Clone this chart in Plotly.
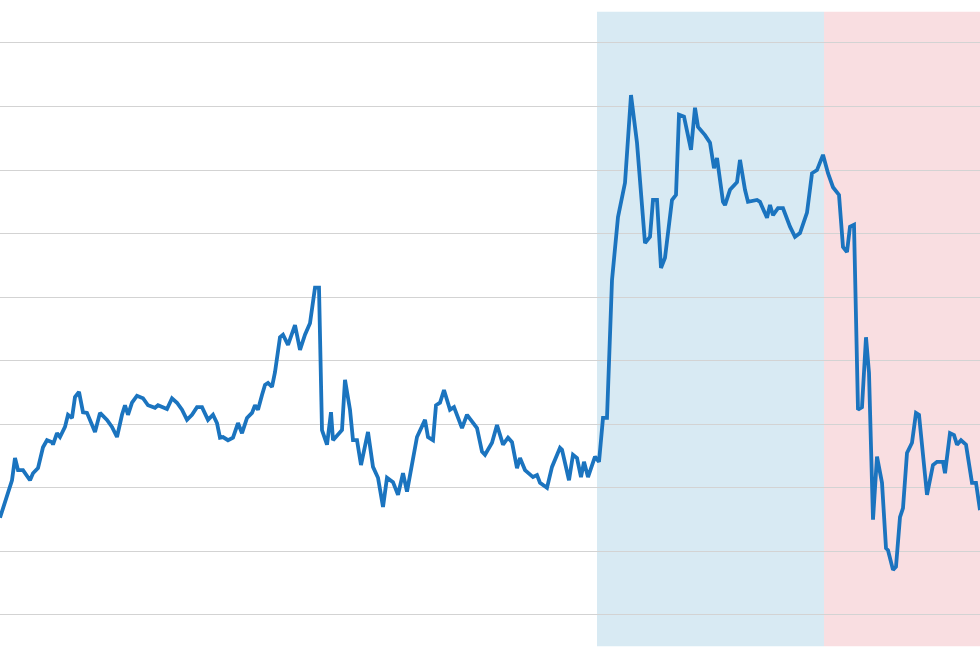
import plotly.graph_objects as go

# time index (horizontal position of each observation)
t = [0, 7, 12, 15, 18, 23, 30, 33, 38, 43, 47, 52, 53, 57, 60, 65, 68, 72, 75, 79,
     83, 87, 95, 100, 107, 112, 117, 122, 125, 128, 132, 137, 143, 148, 155, 158, 163, 167, 172, 177,
     182, 187, 192, 197, 202, 208, 213, 217, 220, 223, 228, 233, 238, 242, 247, 252, 255, 258, 262, 265,
     268, 272, 275, 280, 283, 288, 295, 300, 305, 310, 315, 319,
     322, 327, 331, 333, 342, 345, 350, 353, 357, 361, 368, 373, 378, 383, 387, 393, 398, 403, 407, 417,
     425, 428, 433, 436, 440, 444, 450, 454, 462, 467, 477, 482, 485, 492, 497, 503, 508, 512, 517, 520,
     525, 533, 537, 540, 547, 552, 560, 562, 569, 573, 577, 581, 584, 588, 595, 599, 603, 607,
     612, 618, 625, 631, 637, 645, 650, 653, 657, 661, 665, 672, 676, 679, 684, 691, 695, 698, 705, 710,
     714, 717, 723, 725, 730, 737, 740, 745, 748, 757, 760, 767, 770, 773, 778, 783, 790, 795, 800, 807,
     812, 817, 823,
     828, 833, 839, 843, 847, 850, 854, 858, 862, 866, 869, 873, 877, 882, 886, 888, 893, 896, 900, 903,
     907, 912, 916, 919, 927, 933, 937, 943, 945, 950, 954, 957, 961, 966, 972, 976, 980]

values = [15.3, 18.6, 21.2, 24.7, 22.8, 22.8, 21.2, 22.3, 23.1, 26.4, 27.5, 27.2, 26.8, 28.6, 28.0, 29.6, 31.5, 31.0, 34.3, 35.1,
          31.9, 31.8, 28.8, 31.8, 30.7, 29.6, 28.0, 31.5, 33.0, 31.5, 33.4, 34.5, 34.1, 33.0, 32.6, 33.0, 32.6, 32.4, 34.1, 33.4,
          32.3, 30.7, 31.5, 32.7, 32.7, 30.7, 31.5, 30.2, 27.9, 28.0, 27.5, 27.9, 30.2, 28.6, 31.0, 31.8, 33.0, 32.3, 34.6, 36.2,
          36.5, 35.9, 38.2, 43.7, 44.1, 42.5, 45.6, 41.7, 44.1, 45.9, 51.5, 51.5,
          29.1, 26.8, 31.9, 27.5, 29.1, 37.0, 32.3, 27.5, 27.5, 23.6, 28.8, 23.3, 21.6, 17.0, 21.6, 20.9, 18.9, 22.3, 19.4, 28.0,
          30.7, 28.0, 27.5, 33.0, 33.4, 35.4, 32.3, 32.7, 29.4, 31.5, 29.4, 25.7, 25.2, 27.1, 29.9, 26.8, 27.9, 27.2, 23.1, 24.7,
          22.8, 21.7, 22.0, 20.8, 20.0, 23.3, 26.3, 26.0, 21.2, 25.2, 24.7, 21.7, 24.1, 21.7, 24.9, 24.1, 31.0, 31.0,
          52.7, 62.6, 68.0, 81.8, 74.3, 58.5, 59.5, 65.3, 65.3, 54.6, 56.2, 65.3, 66.1, 78.7, 78.4, 73.2, 79.8, 76.8, 75.5, 74.3,
          70.3, 71.9, 65.0, 64.5, 66.9, 68.1, 71.6, 66.9, 65.0, 65.3, 65.0, 62.5, 64.5, 62.9, 64.0, 64.0, 61.1, 59.5, 60.1, 63.3,
          69.5, 70.0, 72.4,
          69.5, 67.3, 66.1, 57.9, 57.1, 61.1, 61.4, 32.3, 32.7, 43.7, 38.1, 15.0, 24.9, 20.8, 10.5, 10.2, 7.1, 7.6, 15.4, 16.8,
          25.5, 27.1, 31.8, 31.5, 18.9, 23.6, 24.1, 24.1, 22.3, 28.6, 28.3, 26.8, 27.5, 26.8, 20.8, 20.8, 16.5]

# shaded periods
periods = [(597, 824, "rgb(216,234,243)"), (824, 1000, "rgb(249,222,225)")]

fig = go.Figure()
fig.add_trace(go.Scatter(x=t, y=values, mode="lines",
                         line=dict(color="#1b74bf", width=3.8), hoverinfo="skip"))

for x0, x1, col in periods:
    fig.add_shape(type="rect", xref="x", yref="y", x0=x0, x1=x1, y0=-4.9, y1=94.9,
                  fillcolor=col, line=dict(width=0), layer="below")

fig.update_layout(
    width=980, height=653,
    margin=dict(l=0, r=0, t=0, b=0),
    paper_bgcolor="white", plot_bgcolor="white",
    showlegend=False,
    xaxis=dict(range=[0, 980], visible=False, showgrid=False, zeroline=False),
    yaxis=dict(range=[-5.98, 96.76], showgrid=True, gridcolor="#d3d3d3", gridwidth=1,
               tick0=0, dtick=10, showticklabels=False, zeroline=False, showline=False,
               ticks=""),
)

fig.write_html("out.html", config={"displayModeBar": False},
               post_script="document.body.style.margin='0';document.body.style.overflow='hidden';")
